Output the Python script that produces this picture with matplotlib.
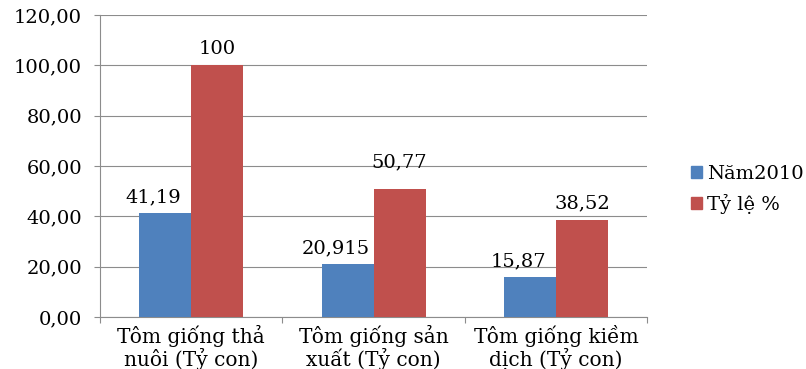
import numpy as np
import matplotlib
matplotlib.use("Agg")
import matplotlib.pyplot as plt
from matplotlib.patches import Patch

# data
categories = ["Tôm giống thả\nnuôi (Tỷ con)", "Tôm giống sản\nxuất (Tỷ con)", "Tôm giống kiềm\ndịch (Tỷ con)"]
nam2010 = [41.19, 20.915, 15.87]
ty_le = [100, 50.77, 38.52]
nam2010_labels = ["41,19", "20,915", "15,87"]
ty_le_labels = ["100", "50,77", "38,52"]
yticks = [0, 20, 40, 60, 80, 100, 120]

plt.rcParams['font.family'] = ['DejaVu Serif']

blue = "#4F81BD"
red = "#C0504D"
grid_col = "#8C8C8C"
fs = 14

fig = plt.figure(figsize=(8.06, 3.69), dpi=100)
ax = fig.add_axes([0.124, 0.141, 0.679, 0.818])

x = np.arange(len(categories))
w = 0.285
b1 = ax.bar(x - w / 2, nam2010, w, color=blue, zorder=3)
b2 = ax.bar(x + w / 2, ty_le, w, color=red, zorder=3)

# labels: blue ones sit a bit left of the bar centre, like the original
for rect, lab in zip(b1, nam2010_labels):
    ax.annotate(lab, (rect.get_x() + rect.get_width() / 2, rect.get_height()),
                xytext=(-12, 11), textcoords="offset pixels",
                ha="center", va="baseline", fontsize=fs)
red_pad = [11, 22, 12]
for rect, lab, p in zip(b2, ty_le_labels, red_pad):
    ax.annotate(lab, (rect.get_x() + rect.get_width() / 2, rect.get_height()),
                xytext=(0, p), textcoords="offset pixels",
                ha="center", va="baseline", fontsize=fs)

ax.set_xlim(-0.5, 2.5)
ax.set_ylim(0, 120)
ax.set_yticks(yticks)
ax.set_yticklabels([f"{v:.2f}".replace(".", ",") for v in yticks], fontsize=fs)
ax.yaxis.grid(True, color=grid_col, linewidth=0.8, zorder=0)

# category ticks at boundaries, labels at centers
ax.set_xticks([-0.5, 0.5, 1.5, 2.5])
ax.set_xticklabels([])
ax.set_xticks(x, minor=True)
ax.set_xticklabels(categories, minor=True, fontsize=fs + 0.5, linespacing=1.05)
ax.tick_params(axis="x", which="minor", length=0, pad=6)
ax.tick_params(axis="x", which="major", length=4, color=grid_col)
ax.tick_params(axis="y", length=4, color=grid_col, pad=9)

for s in ["top", "right"]:
    ax.spines[s].set_visible(False)
for s in ["left", "bottom"]:
    ax.spines[s].set_color(grid_col)

handles = [Patch(color=blue, label="Năm2010"), Patch(color=red, label="Tỷ lệ %")]
fig.legend(handles=handles, loc="upper left", bbox_to_anchor=(0.836, 0.6),
           frameon=False, fontsize=fs, handlelength=0.55, handleheight=0.55,
           handletextpad=0.25, labelspacing=0.55)

fig.savefig("out.png", dpi=100)
